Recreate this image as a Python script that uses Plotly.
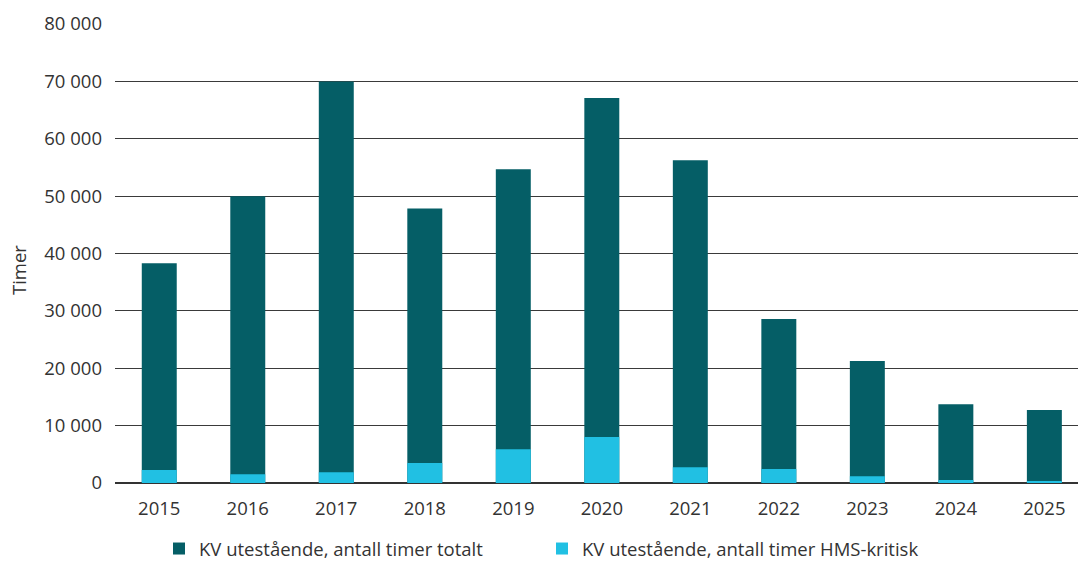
import plotly.graph_objects as go

# Outstanding corrective maintenance (KV), hours per year
years = ["2015", "2016", "2017", "2018", "2019", "2020", "2021", "2022", "2023", "2024", "2025"]
total_hours = [38300, 50000, 70000, 47850, 54700, 67100, 56250, 28570, 21250, 13720, 12720]
hms_hours = [2260, 1510, 1860, 3480, 5870, 8010, 2730, 2440, 1160, 520, 350]

y_ticks = [0, 10000, 20000, 30000, 40000, 50000, 60000, 70000, 80000]

DARK = "#055e66"
LIGHT = "#21c0e3"
FONT = "Open Sans"
TEXT = "#333333"
SIZE = 18.5

fig = go.Figure()
fig.add_trace(go.Bar(
    x=years, y=total_hours, name="KV utestående, antall timer totalt",
    marker=dict(color=DARK, line=dict(width=0)), width=0.395,
))
fig.add_trace(go.Bar(
    x=years, y=hms_hours, name="KV utestående, antall timer HMS-kritisk",
    marker=dict(color=LIGHT, line=dict(width=0)), width=0.395,
))

# y-axis title placed as a rotated annotation
fig.add_annotation(
    text="Timer", textangle=-90, showarrow=False,
    xref="paper", yref="paper", x=(18 - 115) / 963, y=0.464,
    xanchor="center", yanchor="middle",
    font=dict(family=FONT, size=SIZE, color=TEXT),
)

fig.update_layout(
    width=1078, height=561,
    margin=dict(l=115, r=0, t=24, b=78),
    barmode="overlay",
    plot_bgcolor="white", paper_bgcolor="white",
    separators=", ",
    font=dict(family=FONT, size=SIZE, color=TEXT),
    showlegend=True,
    legend=dict(
        orientation="h", xref="container", yref="container",
        x=0.1475, y=0.0214, xanchor="left", yanchor="middle",
        font=dict(family=FONT, size=SIZE, color=TEXT),
        entrywidth=338, traceorder="normal",
    ),
    xaxis=dict(
        type="category", range=[-0.5, 10.38],
        showgrid=False, showline=False, ticks="", ticklabelstandoff=12,
        tickfont=dict(family=FONT, size=SIZE, color=TEXT),
    ),
    yaxis=dict(
        range=[0, 80000], tickvals=y_ticks, tickformat=",d",
        showgrid=True, gridcolor="#3a3a3a", gridwidth=1,
        zeroline=True, zerolinecolor="#333333", zerolinewidth=1.5,
        showline=False, ticks="", ticklabelstandoff=12,
        tickfont=dict(family=FONT, size=SIZE, color=TEXT),
    ),
)

fig.write_html("out.html")
